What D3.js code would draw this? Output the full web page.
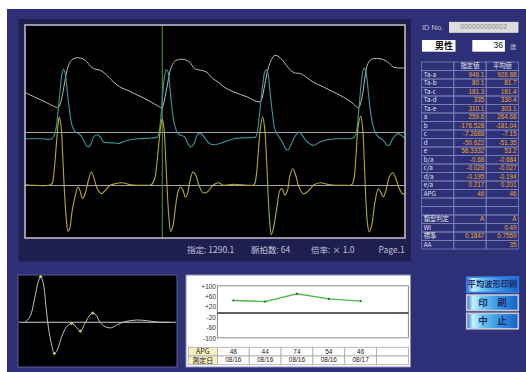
<!DOCTYPE html>
<html>
<head>
<meta charset="utf-8">
<script src="https://cdn.jsdelivr.net/npm/d3@7"></script>
<style>
  html, body { margin: 0; padding: 0; background: #fff; overflow: hidden; }
  text { font-family: "Liberation Sans", "Noto Sans CJK JP", sans-serif; }
</style>
</head>
<body>
<svg id="c" width="526" height="372"></svg>
<script>
// ---- Recorded waveforms: [time (ms), amplitude (display units)] ----
const pulseWave = [[0,145.5],[103,140.7],[203,136],[303,131],[330,130.3],[353,134.3],[377,144.3],[403,159.3],[430,171],[463,177.7],[503,180],[553,180],[603,177.7],[653,172],[687,169.3],[753,167.7],[803,164.3],[853,159.3],[920,153],[970,150],[1030,147.5],[1130,142.7],[1230,137.7],[1347,131],[1370,130],[1397,139.3],[1423,152.7],[1457,169.3],[1497,176.7],[1547,178.7],[1597,178.3],[1647,176],[1697,169.3],[1763,167.7],[1813,166],[1880,159.3],[1930,156],[1990,151],[2090,146],[2223,141],[2340,136],[2363,137.7],[2390,149.3],[2423,166],[2457,176.7],[2500,182.7],[2540,181],[2590,176],[2640,169.3],[2690,165.3],[2757,164.3],[2823,160],[2890,155.3],[2950,152.7],[3050,147.7],[3183,141],[3283,134.3],[3333,130],[3350,132.7],[3377,144.3],[3400,161],[3423,172.7],[3450,177.7],[3483,179.3],[3550,179.3],[3617,176.7],[3683,171],[3750,170],[3800,170]];

const velocityWave = [[0,99.3],[150,99.3],[270,99.3],[303,106],[330,126],[353,149.3],[370,164.3],[387,168.7],[403,164.3],[420,149.3],[443,129.3],[470,112.7],[503,106],[537,104.3],[570,101],[603,94.3],[630,91],[653,92.7],[687,101],[720,103.3],[753,101],[787,96],[837,95.3],[903,95],[930,94.5],[1030,97.7],[1130,99.3],[1263,100],[1323,101],[1340,106],[1357,119.3],[1373,139.3],[1397,162.7],[1413,168.3],[1430,166],[1447,152.7],[1470,129.3],[1497,112.7],[1530,104.3],[1563,102.7],[1597,101],[1630,94.3],[1657,91],[1690,94.3],[1730,104.3],[1763,104.3],[1803,99.3],[1847,94.3],[1897,93.3],[1990,96],[2090,99.3],[2223,100.3],[2307,101],[2323,106],[2347,126],[2373,149.3],[2397,166],[2413,168.3],[2430,164.3],[2450,146],[2473,126],[2497,109.3],[2530,102.7],[2573,96],[2607,89.3],[2630,87.7],[2657,92.7],[2707,102.7],[2740,106],[2773,102.7],[2823,96],[2890,92.7],[2950,96],[3050,98.7],[3183,99.3],[3283,100],[3310,104.3],[3333,122.7],[3357,149.3],[3377,166],[3393,170],[3410,166],[3433,146],[3460,122.7],[3493,107.7],[3533,101],[3583,97.7],[3617,93.3],[3643,92.7],[3677,99.3],[3723,104.3],[3757,103.3],[3800,99.3]];

const accelWave = [[0,53.3],[103,52.7],[237,52.7],[270,54.3],[293,69.3],[313,92.7],[330,112.7],[343,121],[360,112.7],[377,82.7],[393,49.3],[413,19.3],[430,6.7],[447,9.3],[470,26],[503,42.7],[530,51],[548,48],[575,39.5],[600,44],[630,56],[663,66],[690,60],[720,50],[765,44.3],[803,47.7],[853,52.7],[903,54.3],[970,55.3],[1063,53.3],[1197,52.7],[1263,53.3],[1297,59.3],[1320,76],[1340,96],[1363,116],[1373,119.3],[1390,109.3],[1407,79.3],[1423,46],[1440,19.3],[1457,6.7],[1477,11],[1503,29.3],[1530,46],[1557,51],[1580,47.7],[1603,41],[1623,43.5],[1647,56],[1680,66],[1707,63],[1740,52.7],[1780,45.3],[1823,46],[1880,52.7],[1930,55.3],[1990,52.7],[2090,53.7],[2223,52.7],[2290,53.3],[2313,62.7],[2333,86],[2357,112.7],[2377,121],[2397,109.3],[2417,76],[2433,39.3],[2450,12.7],[2463,3.3],[2483,9.3],[2517,29.3],[2550,47.7],[2573,49.3],[2597,42.7],[2623,47],[2650,62.7],[2677,69.3],[2707,62.7],[2740,51],[2783,44.3],[2823,46],[2890,53.3],[2950,55.3],[3050,53.3],[3183,52.7],[3267,53.3],[3290,59.3],[3310,82.7],[3333,112.7],[3357,122],[3377,109.3],[3393,76],[3410,36],[3427,12.7],[3443,6],[3467,12.7],[3500,36],[3533,49.3],[3557,46],[3583,41],[3610,47.7],[3643,61],[3677,65.3],[3710,59.3],[3743,49.3],[3777,44.3],[3800,44.3]];

const velocityBaseline = 105.5;
const accelBaseline = 52.5;
const markerTime = 1373;

// ---- Averaged APG wave (APG units) with a–e waves ----
const avgWave = [[70,0],[120,32.5],[170,148.6],[203,235.6],[253,226.4],[280,90.5],[303,-25.5],[337,-131.8],[393,-160.8],[437,-83.6],[487,-25.5],[580,-25.5],[670,-5.8],[713,36.6],[780,42.4],[827,-5.8],[887,-29],[937,-31.3],[987,-15.7],[1070,3.5],[1187,13.3],[1287,9.3],[1387,1.7],[1520,0]];
const waveNames = ["a", "b", "c", "d", "e"];
const waveTimes = [227, 363, 537, 623, 747];

// ---- Index table ----
const rowLabels = ["Ta-a","Ta-b","Ta-c","Ta-d","Ta-e","a","b","c","d","e","b/a","c/a","d/a","e/a","APG","","","類型判定","WI","標準","AA"];
const specValues = ["946.1","80.1","181.3","335","310.1","259.6","-176.528","-7.2688","-50.622","56.3332","-0.68","-0.028","-0.195","0.217","46","","","A","","0.1847",""];
const avgValues = ["926.88","81.7","181.4","330.4","303.1","264.68","-181.04","-7.15","-51.35","53.2","-0.684","-0.027","-0.194","0.201","46","","","A","0.49","0.7559","35"];
const tableHeader = ["", "指定値", "平均値"];

// ---- APG trend ----
const trendApg = [48, 44, 74, 54, 46];
const trendDates = ["08/16", "08/16", "08/16", "08/16", "08/17"];
const trendTicks = [100, 60, 20, -20, -60, -100];
const trendSlots = 6;

// ---- Status and patient info ----
const statusItems = ["指定: 1290.1", "脈拍数: 64", "倍率: × 1.0", "Page.1"];
const patientId = "000000000002";
const sex = "男性";
const age = "36";
const buttons = ["平均波形印刷", "印　刷", "中　止"];

// ================= drawing =================
const svg = d3.select("#c");
const defs = svg.append("defs");
const FONT = '"Liberation Sans", "Noto Sans CJK JP", sans-serif';
const JFONT = '"Noto Sans CJK JP", "Liberation Sans", sans-serif';

svg.append("rect").attr("width", 526).attr("height", 372).attr("fill", "#2d3076");
svg.append("rect").attr("width", 526).attr("height", 9).attr("fill", "#fff");
svg.append("rect").attr("width", 7).attr("height", 372).attr("fill", "#fff");

// main panel
svg.append("rect").attr("x", 18.5).attr("y", 19).attr("width", 392.5).attr("height", 242.5).attr("fill", "#1e1f4f");

const plot = { l: 25, r: 405, t: 25, b: 238 };
const x = d3.scaleLinear().domain([0, 3800]).range([plot.l, plot.r]);
const y = d3.scaleLinear().domain([0, 213]).range([plot.b, plot.t]);

defs.append("clipPath").attr("id", "plotClip").append("rect")
  .attr("x", plot.l).attr("y", plot.t).attr("width", plot.r - plot.l).attr("height", plot.b - plot.t);

svg.append("rect").attr("x", plot.l).attr("y", plot.t).attr("width", plot.r - plot.l).attr("height", plot.b - plot.t)
  .attr("fill", "#000");

const g = svg.append("g").attr("clip-path", "url(#plotClip)");
[velocityBaseline, accelBaseline].forEach(v => {
  g.append("line").attr("x1", plot.l).attr("x2", plot.r).attr("y1", y(v)).attr("y2", y(v))
    .attr("stroke", "#a4a4a4").attr("stroke-width", 1);
});
g.append("line").attr("x1", x(markerTime)).attr("x2", x(markerTime)).attr("y1", plot.t).attr("y2", plot.b)
  .attr("stroke", "#5a9430").attr("stroke-width", 1);

const line = d3.line().x(d => x(d[0])).y(d => y(d[1])).curve(d3.curveCatmullRom.alpha(0.5));
g.append("path").datum(pulseWave).attr("d", line).attr("fill", "none").attr("stroke", "#c2bab2").attr("stroke-width", 1);
g.append("path").datum(velocityWave).attr("d", line).attr("fill", "none").attr("stroke", "#3a979f").attr("stroke-width", 1.1);
g.append("path").datum(accelWave).attr("d", line).attr("fill", "none").attr("stroke", "#b3aa32").attr("stroke-width", 1.1);

svg.append("rect").attr("x", plot.l).attr("y", plot.t).attr("width", plot.r - plot.l).attr("height", plot.b - plot.t)
  .attr("fill", "none").attr("stroke", "#c4c4cc").attr("stroke-width", 1.5);

// status line
const statusX = [187, 251, 311, 378.5];
svg.selectAll("text.status").data(statusItems).join("text").attr("class", "status")
  .attr("x", (d, i) => statusX[i]).attr("y", 251).attr("dominant-baseline", "middle")
  .attr("font-size", 8.5).attr("fill", "#c0c0d6").style("font-family", JFONT).text(d => d);

// ---- averaged APG panel ----
const avgBox = { l: 18, r: 177, t: 275, b: 367 };
svg.append("rect").attr("x", avgBox.l).attr("y", avgBox.t).attr("width", avgBox.r - avgBox.l).attr("height", avgBox.b - avgBox.t)
  .attr("fill", "#000").attr("stroke", "#5c5c98").attr("stroke-width", 1);
const xa = d3.scaleLinear().domain([0, 1590]).range([avgBox.l, avgBox.r]);
const ya = d3.scaleLinear().domain([-265, 265]).range([368, 276.6]);
const apgAvg = waveNames.map(n => +avgValues[rowLabels.indexOf(n)]);
const wavePts = waveTimes.map((t, i) => [t, apgAvg[i]]);
const avgFull = avgWave.concat(wavePts).sort((p, q) => p[0] - q[0]);
svg.append("line").attr("x1", avgBox.l + 1).attr("x2", avgBox.r - 1).attr("y1", ya(0)).attr("y2", ya(0))
  .attr("stroke", "#d0d0d0").attr("stroke-width", 1.1);
const la = d3.line().x(d => xa(d[0])).y(d => ya(d[1])).curve(d3.curveCatmullRom.alpha(0.5));
svg.append("path").datum(avgFull).attr("d", la).attr("fill", "none").attr("stroke", "#c4c4c4").attr("stroke-width", 1);
svg.selectAll("path.wpt").data(wavePts).join("path").attr("class", "wpt")
  .attr("d", d3.symbol(d3.symbolCross, 6)())
  .attr("transform", d => `translate(${xa(d[0])},${ya(d[1])})`)
  .attr("fill", "#ddd040");

// ---- trend panel ----
svg.append("rect").attr("x", 186).attr("y", 275).attr("width", 224.5).attr("height", 92)
  .attr("fill", "#fff").attr("stroke", "#8e90c0").attr("stroke-width", 1);
const xt = d3.scaleBand().domain(d3.range(trendSlots)).range([217.4, 408.4]);
const yt = d3.scaleLinear().domain([-100, 100]).range([339, 287]);
svg.append("rect").attr("x", 217.4).attr("y", yt(100) - 1.2).attr("width", 191).attr("height", yt(-100) - yt(100))
  .attr("fill", "none").attr("stroke", "#8a8a8a").attr("stroke-width", 1);
svg.append("line").attr("x1", 217.4).attr("x2", 408.4).attr("y1", yt(0)).attr("y2", yt(0))
  .attr("stroke", "#2a2a2a").attr("stroke-width", 1.3);
const axis = svg.append("g").attr("transform", "translate(216,-1)")
  .call(d3.axisLeft(yt).tickValues(trendTicks).tickSize(0).tickPadding(0).tickFormat(d => (d > 0 ? "+" : "") + d));
axis.select(".domain").remove();
axis.selectAll("text").attr("font-size", 6.5).attr("fill", "#333").style("font-family", FONT);

const lt = d3.line().x((d, i) => xt(i) + xt.bandwidth() / 2).y(d => yt(d));
svg.append("path").datum(trendApg).attr("d", lt).attr("fill", "none").attr("stroke", "#4cbb44").attr("stroke-width", 1.3);
svg.selectAll("circle.tp").data(trendApg).join("circle").attr("class", "tp")
  .attr("cx", (d, i) => xt(i) + xt.bandwidth() / 2).attr("cy", d => yt(d)).attr("r", 1.1).attr("fill", "#1d6a1d");

// trend table
const rowsT = [{ label: "APG", vals: trendApg.map(String) }, { label: "測定日", vals: trendDates }];
const rowTop = [347.3, 356];
rowsT.forEach((row, r) => {
  const yy = rowTop[r], hh = 8.7;
  svg.append("rect").attr("x", 188.3).attr("y", yy).attr("width", 29.1).attr("height", hh)
    .attr("fill", "#f6efbf").attr("stroke", "#a8a8a8").attr("stroke-width", 0.8);
  svg.append("text").attr("x", 202.8).attr("y", yy + hh / 2 + 0.3).attr("text-anchor", "middle").attr("dominant-baseline", "middle")
    .attr("font-size", 7).attr("fill", "#222").style("font-family", JFONT).text(row.label);
  d3.range(trendSlots).forEach(i => {
    svg.append("rect").attr("x", xt(i)).attr("y", yy).attr("width", xt.bandwidth()).attr("height", hh)
      .attr("fill", "#fff").attr("stroke", "#a8a8a8").attr("stroke-width", 0.8);
    if (row.vals[i] !== undefined) {
      svg.append("text").attr("x", xt(i) + xt.bandwidth() / 2).attr("y", yy + hh / 2 + 0.3)
        .attr("text-anchor", "middle").attr("dominant-baseline", "middle")
        .attr("font-size", 6.5).attr("fill", "#222").style("font-family", FONT).text(row.vals[i]);
    }
  });
});

// ---- patient info ----
svg.append("text").attr("x", 422).attr("y", 28.5).attr("dominant-baseline", "middle")
  .attr("font-size", 7.5).attr("fill", "#c4c4d8").style("font-family", FONT).text("ID No.");
svg.append("rect").attr("x", 449.5).attr("y", 22.3).attr("width", 68.5).attr("height", 10)
  .attr("fill", "#dcdcdc").attr("stroke", "#eeeeee").attr("stroke-width", 0.8);
svg.append("text").attr("x", 483.7).attr("y", 27.6).attr("text-anchor", "middle").attr("dominant-baseline", "middle")
  .attr("font-size", 7).attr("fill", "#8a8a8a").style("font-family", FONT).text(patientId);
svg.append("rect").attr("x", 422).attr("y", 40).attr("width", 33.5).attr("height", 11.7).attr("fill", "#fff");
svg.append("text").attr("x", 453).attr("y", 46.2).attr("text-anchor", "end").attr("dominant-baseline", "middle")
  .attr("font-size", 9).attr("font-weight", "bold").attr("fill", "#111").style("font-family", JFONT).text(sex);
svg.append("rect").attr("x", 472.3).attr("y", 40).attr("width", 32.6).attr("height", 11.7).attr("fill", "#fff");
svg.append("text").attr("x", 503).attr("y", 46.2).attr("text-anchor", "end").attr("dominant-baseline", "middle")
  .attr("font-size", 8.5).attr("fill", "#111").style("font-family", FONT).text(age);
svg.append("text").attr("x", 510).attr("y", 47).attr("dominant-baseline", "middle")
  .attr("font-size", 6).attr("fill", "#d0d0e0").style("font-family", JFONT).text("歳");

// ---- index table ----
const colX = [421.7, 453.8, 486.2, 518.5];
const rowH = 8.5, tTop = 62;
const allRows = [tableHeader].concat(rowLabels.map((l, i) => [l, specValues[i], avgValues[i]]));
allRows.forEach((row, r) => {
  const yy = tTop + r * rowH;
  row.forEach((txt, c) => {
    svg.append("rect").attr("x", colX[c]).attr("y", yy).attr("width", colX[c + 1] - colX[c]).attr("height", rowH)
      .attr("fill", "none").attr("stroke", "#7d80b4").attr("stroke-width", 0.8);
    if (!txt) return;
    const t = svg.append("text").attr("y", yy + rowH / 2 + 0.3).attr("dominant-baseline", "middle")
      .attr("font-size", 6.3).style("font-family", r === 0 || c === 0 ? JFONT : FONT);
    if (r === 0) {
      t.attr("x", (colX[c] + colX[c + 1]) / 2).attr("text-anchor", "middle").attr("fill", "#e6e6f0");
    } else if (c === 0) {
      t.attr("x", colX[0] + 2).attr("fill", "#e0e0ee");
    } else {
      t.attr("x", colX[c + 1] - 2).attr("text-anchor", "end").attr("fill", "#f0a834");
    }
    t.text(txt);
  });
});

// ---- buttons ----
const grad = defs.append("linearGradient").attr("id", "btnGrad").attr("x1", 0).attr("x2", 1).attr("y1", 0).attr("y2", 0);
[["0%", "#2a6fd0"], ["12%", "#c8f4ff"], ["30%", "#6ac8f2"], ["60%", "#3a98e4"], ["100%", "#1660c4"]]
  .forEach(s => grad.append("stop").attr("offset", s[0]).attr("stop-color", s[1]));
const btnY = [277, 295, 313.3];
buttons.forEach((b, i) => {
  svg.append("rect").attr("x", 466.7).attr("y", btnY[i]).attr("width", 51.6).attr("height", 15.5)
    .attr("fill", "url(#btnGrad)").attr("stroke", i === 0 ? "#3a78e0" : "#c8cad8").attr("stroke-width", 1.6);
  svg.append("text").attr("x", 492.5).attr("y", btnY[i] + 8).attr("text-anchor", "middle").attr("dominant-baseline", "middle")
    .attr("font-size", i === 0 ? 8.3 : 9.5).attr("font-weight", "bold").attr("fill", "#1c2a6a")
    .style("font-family", JFONT).text(b);
});
</script>
</body>
</html>
